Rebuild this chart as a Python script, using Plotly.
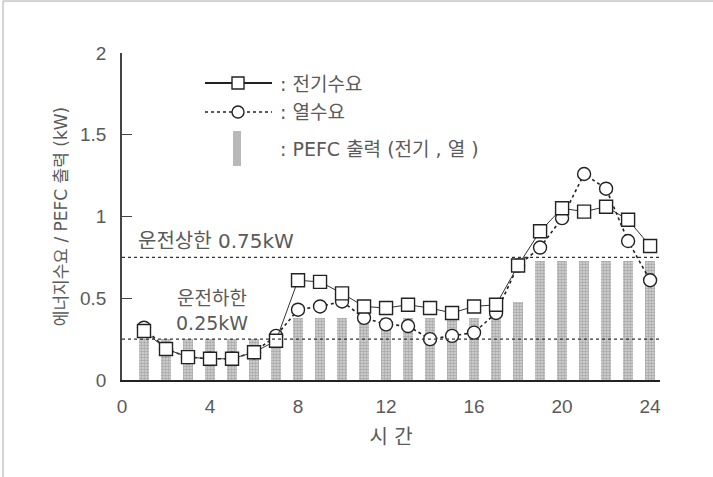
import plotly.graph_objects as go

# Hourly data (hour of day, kW)
hours = list(range(1, 25))
elec_demand = [0.30, 0.19, 0.14, 0.13, 0.13, 0.17, 0.24, 0.61, 0.60, 0.53, 0.45, 0.44,
               0.46, 0.44, 0.41, 0.45, 0.46, 0.70, 0.91, 1.05, 1.03, 1.06, 0.98, 0.82]
heat_demand = [0.32, 0.19, 0.14, 0.13, 0.13, 0.17, 0.27, 0.43, 0.45, 0.48, 0.38, 0.34,
               0.33, 0.25, 0.27, 0.29, 0.41, 0.70, 0.81, 0.99, 1.26, 1.17, 0.85, 0.61]
pefc_output = [0.25, 0.25, 0.25, 0.25, 0.25, 0.25, 0.25, 0.38, 0.38, 0.38, 0.38, 0.38,
               0.38, 0.38, 0.38, 0.38, 0.39, 0.48, 0.73, 0.73, 0.73, 0.73, 0.73, 0.73]
upper_limit = 0.75
lower_limit = 0.25
x_ticks = [0, 4, 8, 12, 16, 20, 24]
y_ticks = [0, 0.5, 1, 1.5, 2]
y_tick_text = ["0", "0.5", "1", "1.5", "2"]

W, H = 713, 477
ML, MR, MT, MB = 122, 53, 53, 97
PW, PH = W - ML - MR, H - MT - MB


def px(x):
    return (x - ML) / PW


def py(y):
    return (H - MB - y) / PH


FONT = "DejaVu Sans, Noto Sans CJK KR, sans-serif"
NUM_FONT = "Liberation Sans Narrow, Liberation Sans, sans-serif"
TXT = "#5a5a5a"

fig = go.Figure()

fig.add_trace(go.Bar(
    x=hours, y=pefc_output, width=0.42,
    marker=dict(color="#c4c4c4", line=dict(width=0),
                pattern=dict(shape=".", size=3, solidity=0.55, fgcolor="#7a7a7a", bgcolor="#d6d6d6")),
    showlegend=False,
))

fig.add_trace(go.Scatter(
    x=hours, y=heat_demand, mode="lines+markers",
    line=dict(color="#222", width=1.6, dash="dot"),
    marker=dict(symbol="circle", size=13, color="white", line=dict(color="#222", width=1.4)),
    showlegend=False,
))

fig.add_trace(go.Scatter(
    x=hours, y=elec_demand, mode="lines+markers",
    line=dict(color="#333", width=1),
    marker=dict(symbol="square", size=13, color="white", line=dict(color="#222", width=1.4)),
    showlegend=False,
))

shapes = []
# operating limits
for lim in (upper_limit, lower_limit):
    shapes.append(dict(type="line", xref="x", yref="y", x0=0, x1=24.45, y0=lim, y1=lim,
                       line=dict(color="#333", width=1.3, dash="dot")))

# key: electric demand
shapes.append(dict(type="line", xref="paper", yref="paper", x0=px(205), x1=px(272), y0=py(83), y1=py(83),
                   line=dict(color="#222", width=2)))
shapes.append(dict(type="rect", xref="paper", yref="paper", x0=px(232), x1=px(244), y0=py(77), y1=py(89),
                   line=dict(color="#222", width=1.4), fillcolor="white"))
# key: heat demand
shapes.append(dict(type="line", xref="paper", yref="paper", x0=px(205), x1=px(272), y0=py(112), y1=py(112),
                   line=dict(color="#222", width=1.5, dash="dot")))
shapes.append(dict(type="circle", xref="paper", yref="paper", x0=px(232), x1=px(244), y0=py(106), y1=py(118),
                   line=dict(color="#222", width=1.4), fillcolor="white"))
# key: PEFC output
shapes.append(dict(type="rect", xref="paper", yref="paper", x0=px(233), x1=px(241), y0=py(131), y1=py(166),
                   line=dict(width=0), fillcolor="#b8b8b8"))
# frame edges
shapes.append(dict(type="line", xref="paper", yref="paper", x0=px(3), x1=px(3), y0=py(1), y1=py(477),
                   line=dict(color="#aaa", width=1)))
shapes.append(dict(type="line", xref="paper", yref="paper", x0=px(3), x1=px(713), y0=py(1), y1=py(1),
                   line=dict(color="#aaa", width=1)))

annotations = [
    dict(text=": 전기수요", x=px(278), y=py(84), size=19),
    dict(text=": 열수요", x=px(278), y=py(112), size=19),
    dict(text=": PEFC 출력 (전기 , 열 )", x=px(278), y=py(149), size=19),
    dict(text="운전상한 0.75kW", x=px(136), y=py(241), size=20),
]
annotations = [dict(xref="paper", yref="paper", xanchor="left", yanchor="middle", showarrow=False,
                    text=a["text"], x=a["x"], y=a["y"],
                    font=dict(family=FONT, size=a["size"], color=TXT)) for a in annotations]
annotations.append(dict(text="운전하한<br>0.25kW", xref="x", yref="y", x=4.1, y=0.27,
                        xanchor="center", yanchor="bottom", showarrow=False, align="center",
                        font=dict(family=FONT, size=19, color=TXT)))

fig.update_layout(
    width=W, height=H,
    margin=dict(l=ML, r=MR, t=MT, b=MB),
    paper_bgcolor="white", plot_bgcolor="white",
    font=dict(family=FONT, color=TXT),
    bargap=0,
    shapes=shapes, annotations=annotations,
    xaxis=dict(range=[0, 24.45], tickvals=x_ticks, ticks="", showgrid=False, zeroline=False,
               showline=True, linecolor="#222", linewidth=2, ticklabelstandoff=8,
               tickfont=dict(family=NUM_FONT, size=19, color=TXT),
               title=dict(text="시 간", font=dict(family=FONT, size=20, color=TXT), standoff=14)),
    yaxis=dict(range=[0, 2], tickvals=y_ticks, ticktext=y_tick_text, ticks="inside", ticklen=10,
               tickcolor="#444", showgrid=False, zeroline=False,
               showline=True, linecolor="#444", linewidth=1.5, ticklabelstandoff=10,
               tickfont=dict(family=NUM_FONT, size=19, color=TXT),
               title=dict(text="에너지수요 / PEFC 출력 (kW)", font=dict(family=FONT, size=17, color=TXT),
                          standoff=8)),
)

fig.write_html("out.html")
